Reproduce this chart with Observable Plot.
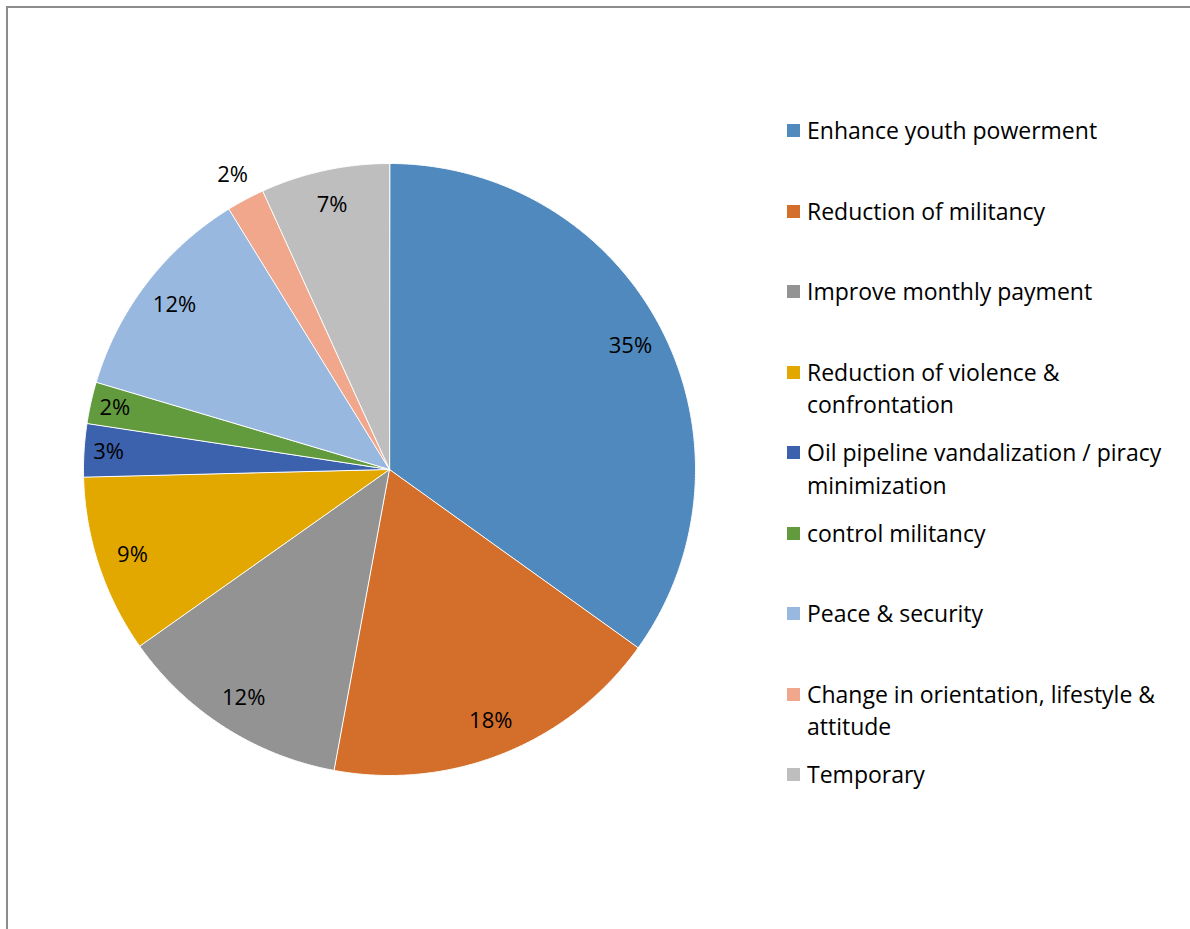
<!DOCTYPE html>
<html>
<head>
<meta charset="utf-8">
<script src="https://cdn.jsdelivr.net/npm/d3@7"></script>
<script src="https://cdn.jsdelivr.net/npm/@observablehq/plot@0.6"></script>
<style>
  html, body { margin: 0; padding: 0; background: #fff; }
  #wrap { position: relative; width: 1190px; height: 929px; overflow: hidden; font-family: "Open Sans", sans-serif; }
  #frame { position: absolute; left: 6px; top: 6px; width: 1190px; height: 940px; border-top: 2px solid #8c8c8c; border-left: 2px solid #8c8c8c; box-sizing: border-box; }
  #chart { position: absolute; left: 0; top: 0; }
  .lg { position: absolute; left: 787px; width: 400px; font-size: 23px; line-height: 32.5px; color: #000; }
  .lg .sw { position: absolute; left: 0; top: 10px; width: 13px; height: 13px; }
  .lg .tx { position: absolute; left: 20px; white-space: nowrap; }
</style>
</head>
<body>
<div id="wrap">
  <div id="frame"></div>
  <div id="chart"></div>
</div>
<script>
// ---- data ----
const categories = [
  "Enhance youth powerment",
  "Reduction of militancy",
  "Improve monthly payment",
  "Reduction of violence & confrontation",
  "Oil pipeline vandalization / piracy minimization",
  "control militancy",
  "Peace & security",
  "Change in orientation, lifestyle & attitude",
  "Temporary"
];
const values = [34.9, 18.0, 12.3, 9.4, 2.8, 2.2, 11.6, 2.0, 6.8];
const legendLines = [
  ["Enhance youth powerment"],
  ["Reduction of militancy"],
  ["Improve monthly payment"],
  ["Reduction of violence &", "confrontation"],
  ["Oil pipeline vandalization / piracy", "minimization"],
  ["control militancy"],
  ["Peace & security"],
  ["Change in orientation, lifestyle &", "attitude"],
  ["Temporary"]
];
const colors = ["#4F89BD", "#D46E2B", "#939393", "#E2A800", "#3D62AD", "#629B3E", "#98B8DF", "#F0A78B", "#BEBEBE"];

// ---- layout ----
const W = 1190, H = 929, cx = 389, cy = 469, R = 306;

const total = d3.sum(values);
const arcs = d3.pie().sort(null).startAngle(0).endAngle(2 * Math.PI)(values);

const wedgePts = [];
arcs.forEach((a, i) => {
  const cat = categories[i];
  wedgePts.push({cat, x: 0, y: 0});
  const n = Math.max(4, Math.ceil((a.endAngle - a.startAngle) / 0.005));
  for (let k = 0; k <= n; k++) {
    const t = a.startAngle + (a.endAngle - a.startAngle) * k / n;
    wedgePts.push({cat, x: Math.sin(t), y: Math.cos(t)});
  }
});

const labels = arcs.map((a, i) => {
  const mid = (a.startAngle + a.endAngle) / 2;
  const share = values[i] / total;
  const outside = share < 0.021;
  const r = outside ? 1.09 : (share < 0.04 ? 0.92 : 0.885);
  return {cat: categories[i], x: r * Math.sin(mid), y: r * Math.cos(mid), text: Math.round(share * 100) + "%"};
});

const chart = Plot.plot({
  width: W,
  height: H,
  margin: 0,
  x: {domain: [-cx / R, (W - cx) / R], axis: null},
  y: {domain: [-(H - cy) / R, cy / R], axis: null},
  color: {domain: categories, range: colors},
  style: {background: "transparent", fontFamily: "'Open Sans', sans-serif"},
  marks: [
    Plot.line(wedgePts, {x: "x", y: "y", z: "cat", fill: "cat", stroke: "#fff", strokeWidth: 1, curve: "linear-closed"}),
    Plot.text(labels, {x: "x", y: "y", text: "text", fontSize: 22, fill: "#000"})
  ]
});
document.getElementById("chart").appendChild(chart);

// ---- legend ----
const wrap = document.getElementById("wrap");
categories.forEach((c, i) => {
  const row = document.createElement("div");
  row.className = "lg";
  row.style.top = (131 + i * 80.5 - 17) + "px";
  const sw = document.createElement("div");
  sw.className = "sw";
  sw.style.background = colors[i];
  const tx = document.createElement("div");
  tx.className = "tx";
  tx.innerHTML = legendLines[i].map(s => s.replace(/&/g, "&amp;")).join("<br>");
  row.appendChild(sw);
  row.appendChild(tx);
  wrap.appendChild(row);
});
</script>
</body>
</html>
